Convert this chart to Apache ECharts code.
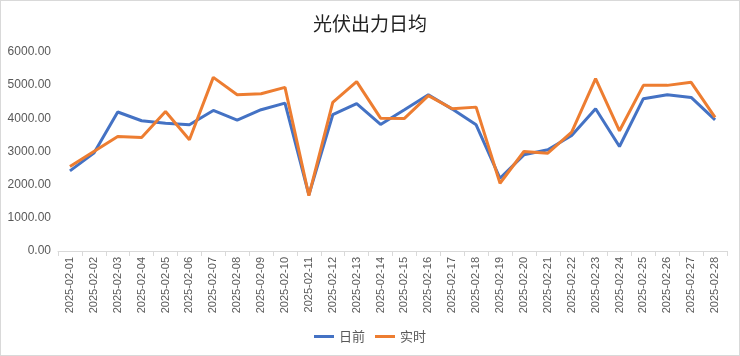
<!DOCTYPE html>
<html>
<head>
<meta charset="utf-8">
<script src="https://cdn.jsdelivr.net/npm/echarts@6/dist/echarts.min.js"></script>
<style>
html,body{margin:0;padding:0;background:#fff;}
#c{width:738px;height:354px;border:1px solid #d9d9d9;}
</style>
</head>
<body>
<div id="c"></div>
<script>
var categories = ["2025-02-01","2025-02-02","2025-02-03","2025-02-04","2025-02-05","2025-02-06","2025-02-07","2025-02-08","2025-02-09","2025-02-10","2025-02-11","2025-02-12","2025-02-13","2025-02-14","2025-02-15","2025-02-16","2025-02-17","2025-02-18","2025-02-19","2025-02-20","2025-02-21","2025-02-22","2025-02-23","2025-02-24","2025-02-25","2025-02-26","2025-02-27","2025-02-28"];
var dayAhead = [2417,2950,4190,3927,3855,3806,4238,3945,4260,4459,1692,4109,4441,3816,4260,4713,4278,3806,2193,2900,3051,3483,4290,3151,4592,4713,4631,3955];
var realTime = [2547,3000,3453,3423,4208,3353,5236,4713,4743,4934,1670,4480,5106,4006,3997,4683,4290,4338,2042,3000,2949,3583,5196,3625,4994,4994,5085,4027];
var seriesNames = ["日前","实时"];
var yTicks = {min:0, max:6000, interval:1000};

var chart = echarts.init(document.getElementById('c'));
chart.setOption({
  animation:false,
  title:{text:"光伏出力日均", left:'center', top:8,
    textStyle:{fontFamily:'"Noto Sans CJK SC"', fontSize:19, fontWeight:'normal', color:'#222'}},
  legend:{bottom:7, left:'center', itemWidth:20, itemHeight:3, itemGap:10,
    icon:'rect',
    textStyle:{fontFamily:'"Noto Sans CJK SC"', fontSize:13, color:'#595959'},
    data:seriesNames},
  grid:{left:57, right:12, top:51, bottom:104},
  xAxis:{type:'category', data:categories, boundaryGap:true,
    axisLine:{lineStyle:{color:'#d9d9d9'}},
    axisTick:{show:true, length:5, lineStyle:{color:'#d9d9d9'}},
    axisLabel:{rotate:90, fontSize:11, color:'#595959', fontFamily:'"Liberation Sans", Arial', margin:6}},
  yAxis:{type:'value', min:yTicks.min, max:yTicks.max, interval:yTicks.interval,
    axisLine:{show:false}, axisTick:{show:false}, splitLine:{show:false},
    axisLabel:{fontSize:12, color:'#595959', fontFamily:'"Liberation Sans", Arial', margin:7,
      formatter:function(v){return v.toFixed(2);}}},
  series:[
    {name:seriesNames[0], type:'line', data:dayAhead, symbol:'none', lineStyle:{width:3, color:'#4472C4'}, itemStyle:{color:'#4472C4'}},
    {name:seriesNames[1], type:'line', data:realTime, symbol:'none', lineStyle:{width:3, color:'#ED7D31'}, itemStyle:{color:'#ED7D31'}}
  ]
});
</script>
</body>
</html>
